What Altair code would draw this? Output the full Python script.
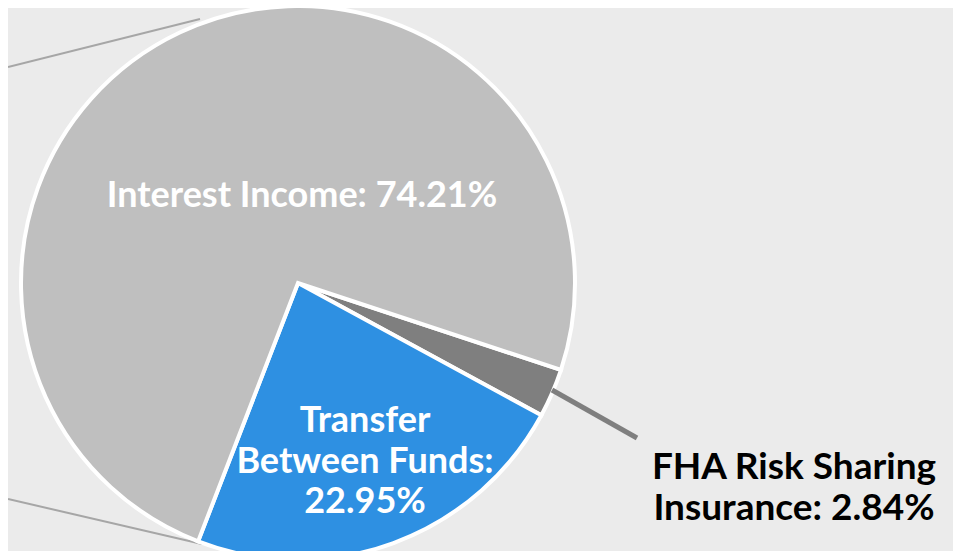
import altair as alt
import pandas as pd
import math

categories = ["FHA Risk Sharing Insurance", "Transfer Between Funds", "Interest Income"]
shares = [2.84, 22.95, 74.21]
colors = ["#7F7F7F", "#2E90E2", "#BFBFBF"]

df = pd.DataFrame({"category": categories, "share": shares, "order": [0, 1, 2]})

start = math.radians(108.3)
W, H = 945, 543
CX, CY, R = 290, 275, 277
FONT = "Lato"
FS = 36

pie = alt.Chart(df).mark_arc(radius=R, stroke="white", strokeWidth=4).encode(
    theta=alt.Theta("share:Q", stack=True, scale=alt.Scale(range=[start, start + 2 * math.pi])),
    order=alt.Order("order:Q"),
    color=alt.Color("category:N", scale=alt.Scale(domain=categories, range=colors), legend=None),
    x=alt.value(CX),
    y=alt.value(CY),
)

line_df = pd.DataFrame({"k": [0]})
upper = alt.Chart(line_df).mark_rule(color="#A6A6A6", strokeWidth=2).encode(
    x=alt.value(0), y=alt.value(59), x2=alt.value(192), y2=alt.value(11))
lower = alt.Chart(line_df).mark_rule(color="#A6A6A6", strokeWidth=2).encode(
    x=alt.value(0), y=alt.value(491), x2=alt.value(194), y2=alt.value(536))
leader = alt.Chart(line_df).mark_rule(color="#7F7F7F", strokeWidth=5).encode(
    x=alt.value(544), y=alt.value(382), x2=alt.value(629), y2=alt.value(430))

def label(txt, x, y, color, size=FS):
    return alt.Chart(line_df).mark_text(
        text=txt, font=FONT, fontWeight="bold", fontSize=size, color=color,
        align="center", baseline="alphabetic",
    ).encode(x=alt.value(x), y=alt.value(y))

texts = [
    label("Interest Income: 74.21%", 294, 199, "white"),
    label("Transfer", 357, 424, "white"),
    label("Between Funds:", 357, 465, "white"),
    label("22.95%", 357, 505, "white"),
    label("FHA Risk Sharing", 786, 471, "black", 37),
    label("Insurance: 2.84%", 786, 512, "black", 37),
]

chart = alt.layer(upper, lower, pie, leader, *texts).properties(
    width=W, height=H, padding=0, background="#EBEBEB",
    autosize=alt.AutoSizeParams(type="none"),
).configure_view(stroke=None)

chart.save("out.html", embed_options={"renderer": "svg", "actions": False})
